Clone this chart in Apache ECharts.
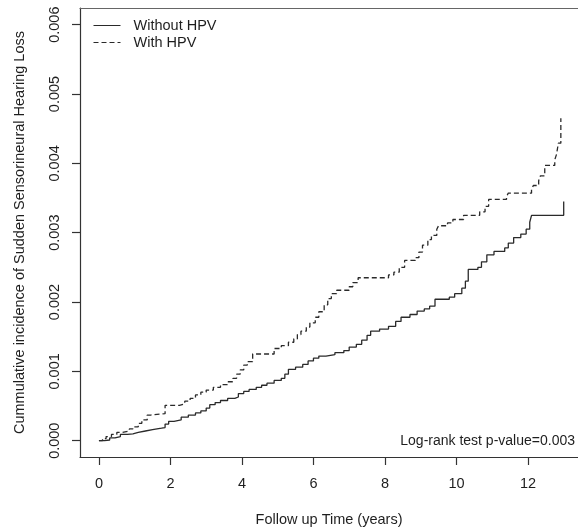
<!DOCTYPE html>
<html>
<head>
<meta charset="utf-8">
<script src="https://cdn.jsdelivr.net/npm/echarts@6/dist/echarts.min.js"></script>
<style>
  html, body { margin: 0; padding: 0; background: #fff; }
  #chart { width: 578px; height: 532px; }
</style>
</head>
<body>
<div id="chart"></div>
<script>
  // follow up time (years) where each step lands, and cumulative incidence after it
  const withoutTime = [0, 0.15, 0.3, 0.45, 0.6, 0.8, 0.95, 1.1, 1.3, 1.5, 1.75, 1.85, 1.95, 2.1, 2.3, 2.5, 2.7, 2.85, 3.0, 3.1,
    3.25, 3.4, 3.6, 3.8, 3.9, 4.05, 4.2, 4.4, 4.55, 4.7, 4.9, 5.1, 5.2, 5.3, 5.5, 5.7, 5.85, 6.0, 6.15, 6.35,
    6.6, 6.85, 7.0, 7.2, 7.35, 7.5, 7.6, 7.85, 8.1, 8.3, 8.45, 8.7, 8.9, 9.1, 9.25, 9.4, 9.8, 9.95, 10.15, 10.25,
    10.33, 10.6, 10.7, 10.85, 11.05, 11.35, 11.45, 11.6, 11.8, 11.95, 12.05, 12.1, 13.0]
  const withoutRisk = [0, 0.00001, 0.00004, 0.00006, 0.00009, 0.0001, 0.00012, 0.00014, 0.00016, 0.00018, 0.00019, 0.00024, 0.00028, 0.0003, 0.00034, 0.00037, 0.0004, 0.00043, 0.00047, 0.00052,
    0.00055, 0.00058, 0.00061, 0.00063, 0.00068, 0.00071, 0.00074, 0.00077, 0.0008, 0.00083, 0.00087, 0.0009, 0.00096, 0.00103, 0.00106, 0.0011, 0.00115, 0.00119, 0.00122, 0.00124,
    0.00127, 0.0013, 0.00135, 0.00139, 0.00145, 0.00152, 0.00158, 0.00161, 0.00165, 0.00172, 0.00178, 0.00182, 0.00187, 0.0019, 0.00194, 0.00204, 0.00207, 0.00212, 0.0022, 0.0023,
    0.00247, 0.0025, 0.00258, 0.00268, 0.00273, 0.00278, 0.00285, 0.00293, 0.00298, 0.00305, 0.00315, 0.00325, 0.00345]

  const withTime = [0, 0.1, 0.2, 0.35, 0.5, 0.65, 0.85, 0.95, 1.1, 1.2, 1.35, 1.45, 1.85, 2.25, 2.4, 2.55, 2.7, 2.85, 3.0, 3.2,
    3.4, 3.6, 3.75, 3.85, 3.95, 4.05, 4.15, 4.3, 4.9, 5.1, 5.3, 5.45, 5.55, 5.65, 5.8, 5.9, 6.05, 6.15, 6.3, 6.4,
    6.5, 6.65, 7.0, 7.1, 7.25, 8.1, 8.25, 8.4, 8.55, 8.85, 8.95, 9.05, 9.2, 9.3, 9.45, 9.5, 9.75, 9.9, 10.2, 10.65,
    10.8, 10.9, 11.4, 11.45, 12.1, 12.15, 12.3, 12.35, 12.47, 12.75, 12.8, 12.85, 12.92, 12.92]
  const withRisk = [0, 0.00003, 0.00006, 0.00009, 0.00012, 0.00014, 0.00017, 0.0002, 0.00025, 0.0003, 0.00037, 0.00039, 0.00051, 0.00053, 0.00057, 0.00061, 0.00066, 0.0007, 0.00073, 0.00077,
    0.00081, 0.00085, 0.0009, 0.00096, 0.00102, 0.00109, 0.00114, 0.00125, 0.00133, 0.00137, 0.00142, 0.00147, 0.00153, 0.00158, 0.00164, 0.0017, 0.00178, 0.00186, 0.00196, 0.00205,
    0.00212, 0.00217, 0.00222, 0.00228, 0.00235, 0.00239, 0.00243, 0.0025, 0.0026, 0.00264, 0.00272, 0.00282, 0.0029, 0.00296, 0.00305, 0.0031, 0.00314, 0.00319, 0.00325, 0.0033,
    0.00338, 0.00348, 0.00352, 0.00357, 0.00362, 0.00368, 0.00375, 0.00382, 0.00397, 0.00405, 0.00413, 0.00429, 0.00432, 0.00465]

  const xTicks = [0, 2, 4, 6, 8, 10, 12]
  const yTicks = [0, 0.001, 0.002, 0.003, 0.004, 0.005, 0.006]
  const groupNames = ['Without HPV', 'With HPV']
  const pValueText = 'Log-rank test p-value=0.003'

  const zip = (xs, ys) => xs.map((x, i) => [x, ys[i]])

  const ink = '#1e1e1e'
  const font = '"Liberation Sans", Arial, sans-serif'

  const chart = echarts.init(document.getElementById('chart'))
  chart.setOption({
    animation: false,
    backgroundColor: '#fff',
    textStyle: { fontFamily: font, color: ink },
    grid: { left: 80, right: 0, top: 8, bottom: 74 },
    legend: {
      show: true,
      orient: 'vertical',
      left: 93,
      top: 18,
      padding: 0,
      itemWidth: 27,
      itemHeight: 14,
      itemGap: 2,
      itemStyle: { opacity: 0 },
      lineStyle: { width: 1 },
      textStyle: { fontSize: 14.5, color: ink, fontFamily: font, padding: [0, 0, 0, 8] },
      data: groupNames
    },
    xAxis: [
      {
        type: 'value',
        min: -0.53,
        max: 13.4,
        name: 'Follow up Time (years)',
        nameLocation: 'middle',
        nameGap: 55,
        nameTextStyle: { fontSize: 14.5, color: ink },
        splitLine: { show: false },
        axisLine: { show: true, onZero: false, lineStyle: { color: '#333', width: 1.2 } },
        axisTick: { show: true, length: 8, customValues: xTicks, lineStyle: { color: '#333', width: 1.2 } },
        axisLabel: { fontSize: 14.5, color: ink, margin: 19, customValues: xTicks, formatter: (v) => String(v) }
      },
      {
        type: 'value',
        position: 'top',
        min: -0.53,
        max: 13.4,
        splitLine: { show: false },
        axisLine: { show: true, onZero: false, lineStyle: { color: '#666', width: 1.2 } },
        axisTick: { show: false },
        axisLabel: { show: false }
      }
    ],
    yAxis: {
      type: 'value',
      min: -0.000235,
      max: 0.00624,
      name: 'Cummulative incidence of Sudden Sensorineural Hearing Loss',
      nameLocation: 'middle',
      nameGap: 53,
      nameTextStyle: { fontSize: 14.5, color: ink },
      splitLine: { show: false },
      axisLine: { show: true, onZero: false, lineStyle: { color: '#333', width: 1.2 } },
      axisTick: { show: true, length: 8, customValues: yTicks, lineStyle: { color: '#333', width: 1.2 } },
      axisLabel: { fontSize: 14.5, color: ink, rotate: 90, margin: 18, customValues: yTicks, formatter: (v) => v.toFixed(3) }
    },
    graphic: [
      {
        type: 'text',
        right: 3,
        top: 434,
        style: { text: pValueText, fontSize: 14, fill: ink, fontFamily: font }
      }
    ],
    series: [
      {
        name: groupNames[0],
        type: 'line',
        step: 'end',
        symbol: 'none',
        data: zip(withoutTime, withoutRisk),
        itemStyle: { color: '#2a2a2a' },
        lineStyle: { color: '#2a2a2a', width: 1.3, type: 'solid' }
      },
      {
        name: groupNames[1],
        type: 'line',
        step: 'end',
        symbol: 'none',
        data: zip(withTime, withRisk),
        itemStyle: { color: '#2a2a2a' },
        lineStyle: { color: '#2a2a2a', width: 1.3, type: [5, 3] }
      }
    ]
  })
</script>
</body>
</html>
